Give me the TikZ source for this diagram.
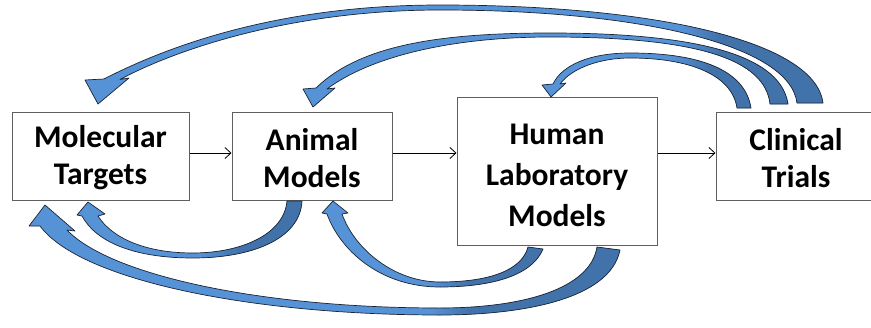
\documentclass[tikz,border=0pt]{standalone}
\usepackage{fontspec}
\setmainfont{Carlito}
\usetikzlibrary{arrows.meta}

\definecolor{arrowlight}{RGB}{86,146,214}
\definecolor{arrowdark}{RGB}{66,114,170}
\definecolor{arrowline}{RGB}{28,36,52}
\definecolor{boxline}{RGB}{95,95,95}

\tikzset{
  box/.style={draw=boxline, line width=1pt, inner sep=0pt},
  lbl/.style={font=\fontsize{31.5}{37}\selectfont\bfseries, align=center, inner sep=0pt},
  widelbl/.style={lbl, font=\fontsize{31.5}{41}\selectfont\bfseries},
  flow/.style={draw=black, line width=0.8pt, -{Straight Barb[length=6pt,width=11pt]}},
  arrowedge/.style={draw=arrowline, line width=0.7pt, line join=round},
}

% Block arrow: light body, shaded into a darker tail to the right of x = #2
\newcommand\fillblockarrow[2]{%
  \begin{scope}
    \clip #1;
    \fill[arrowlight] (0,0) rectangle (880,330);
    \shade[left color=arrowlight, right color=arrowdark] (#2-40,0) rectangle (#2,330);
    \fill[arrowdark] (#2,0) rectangle (880,330);
  \end{scope}
  \draw[arrowedge] #1;}

\begin{document}
\begin{tikzpicture}[x=1pt, y=-1pt]
  \useasboundingbox (0,0) rectangle (871,327);
  \fill[white] (0,0) rectangle (871,327);

  % stage boxes
  \node[box, minimum width=177pt, minimum height=88pt]  (mol) at (100.5,156) {};
  \node[box, minimum width=160pt, minimum height=88pt]  (ani) at (312,156) {};
  \node[box, minimum width=200pt, minimum height=148pt] (hum) at (557,171) {};
  \node[box, minimum width=160pt, minimum height=88pt]  (cli) at (796,156) {};

  % labels
  \node[lbl] (molt) at ([yshift=-2pt]mol.center) {Molecular\\Targets};
  \node[lbl] (anit) at ([yshift=-2pt]ani.center) {Animal\\Models};
  \node[widelbl] (humt) at ([yshift=-4pt]hum.center) {Human\\Laboratory\\Models};
  \node[lbl] (clit) at ([yshift=-2pt]cli.center) {Clinical\\Trials};

  % forward flow
  \begin{scope}[transform canvas={yshift=3pt}]
    \draw[flow] (mol.east) -- (ani.west);
    \draw[flow] (ani.east) -- (ani.east -| hum.west);
    \draw[flow] (hum.east |- cli.west) -- (cli.west);
  \end{scope}

  % feedback from clinical trials (over the top)
  \fillblockarrow{(823,103) .. controls (815,40) and (650,5) .. (440,5)
    .. controls (280,5) and (170,45) .. (104,79) -- (85,80) -- (98,104)
    -- (129,78) -- (120,79.5) .. controls (175,50) and (290,10) .. (440,10)
    .. controls (640,10) and (790,45) .. (797,103) -- cycle}{720}
  \fillblockarrow{(788,104) .. controls (780,50) and (680,33) .. (550,33)
    .. controls (440,33) and (360,45) .. (316,88) -- (303,89) -- (313,107)
    -- (335,88) -- (327,89) .. controls (370,57) and (450,37) .. (550,37)
    .. controls (700,37) and (765,60) .. (770,104) -- cycle}{720}
  \fillblockarrow{(751,108) .. controls (745,70) and (700,53) .. (630,53)
    .. controls (590,53) and (562,65) .. (553,84) -- (542,85) -- (551,97)
    -- (566,83) -- (560,84) .. controls (572,68) and (600,58) .. (630,58)
    .. controls (690,58) and (732,75) .. (737,108) -- cycle}{710}

  % feedback underneath
  \fillblockarrow{(302,201) .. controls (300,240) and (250,258) .. (193,258)
    .. controls (130,258) and (95,240) .. (82,216) -- (77,215) -- (88,202)
    -- (105,214) -- (98,216) .. controls (112,238) and (145,253) .. (193,253)
    .. controls (240,253) and (284,235) .. (287,201) -- cycle}{240}
  \fillblockarrow{(543,249) .. controls (530,280) and (480,287) .. (440,287)
    .. controls (380,287) and (340,250) .. (327,214) -- (322,213) -- (333,201)
    -- (348,213) -- (342,214) .. controls (355,250) and (395,282) .. (440,282)
    .. controls (490,282) and (522,270) .. (528,247) -- cycle}{470}
  \fillblockarrow{(620,250) .. controls (610,300) and (520,315) .. (440,315)
    .. controls (250,315) and (80,280) .. (40,226) -- (29,226) -- (45,205)
    -- (75,231) -- (67,230) .. controls (110,275) and (260,308) .. (440,308)
    .. controls (520,308) and (590,290) .. (597,247) -- cycle}{470}
\end{tikzpicture}
\end{document}
